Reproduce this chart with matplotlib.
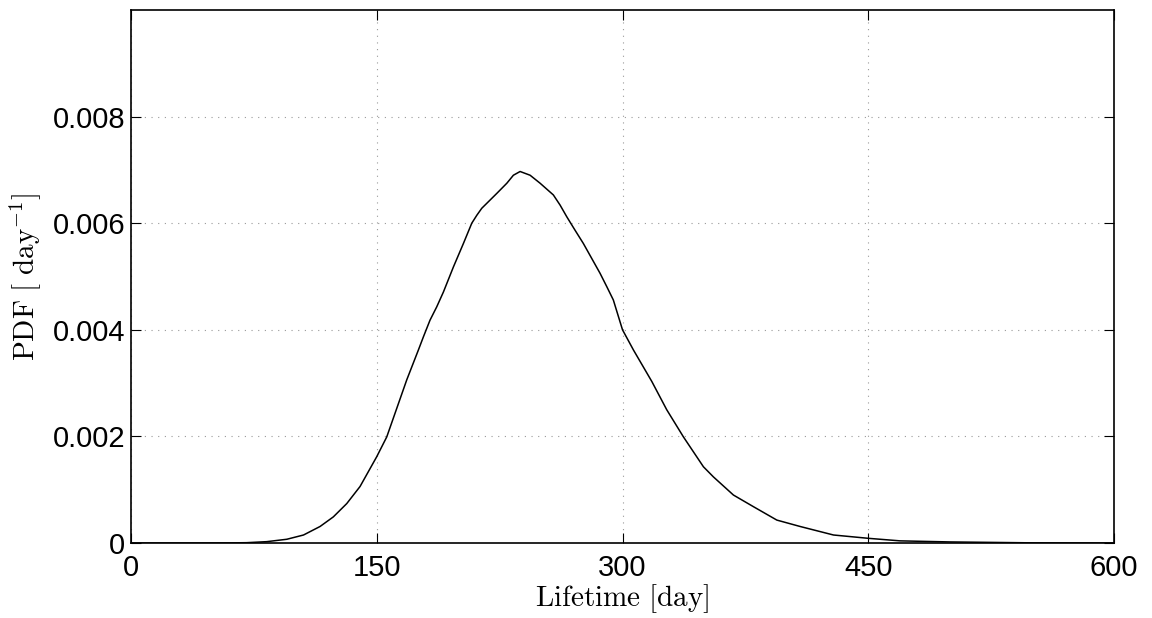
import matplotlib
matplotlib.use("Agg")
import matplotlib.pyplot as plt

plt.rcParams['mathtext.fontset'] = 'cm'
plt.rcParams['font.family'] = ['Liberation Sans', 'DejaVu Sans']

# lifetime [day] and PDF values (PDF in units of 1e-3 / day)
lifetime = [0, 40, 60, 70.6, 82.8, 95.1, 105.3, 115.4, 123.5, 131.7, 139.8,
            150, 156.1, 168.3, 175.4, 178.5, 182.5, 186.6, 190.7, 196.8, 202.9,
            208, 211.1, 214.1, 223.3, 229.4, 233.4, 237.5, 243.6, 249.7, 257.8,
            261.9, 266, 271, 276.1, 281.2, 286.3, 290.4, 294.4, 300, 306.7,
            317.9, 327, 337.2, 349.4, 355.5, 367.7, 380, 394.2, 408.4, 428.8,
            450, 469.5, 500, 550, 600]
pdf_e3 = [0, 0, 0.002, 0.006, 0.025, 0.07, 0.15, 0.31, 0.49, 0.74, 1.06,
          1.62, 1.99, 3.06, 3.62, 3.87, 4.18, 4.43, 4.71, 5.18, 5.62,
          6.0, 6.15, 6.28, 6.56, 6.75, 6.9, 6.97, 6.9, 6.75, 6.53,
          6.34, 6.12, 5.87, 5.62, 5.34, 5.06, 4.81, 4.56, 4.0, 3.62,
          3.03, 2.5, 1.99, 1.43, 1.24, 0.9, 0.68, 0.43, 0.31, 0.15,
          0.088, 0.04, 0.02, 0.003, 0]
pdf = [v * 1e-3 for v in pdf_e3]

x_ticks = [0, 150, 300, 450, 600]
y_ticks = [0, 0.002, 0.004, 0.006, 0.008]
y_tick_labels = ['0', '0.002', '0.004', '0.006', '0.008']

fig = plt.figure(figsize=(11.52, 6.18), dpi=100)
ax = fig.add_axes([131 / 1152, 1 - 543 / 618, 983 / 1152, 533 / 618])

ax.plot(lifetime, pdf, color='black', linewidth=1.1)

ax.set_xlim(0, 600)
ax.set_ylim(0, 0.01)
ax.set_xticks(x_ticks)
ax.set_yticks(y_ticks)
ax.set_yticklabels(y_tick_labels)
ax.tick_params(direction='in', length=7, width=0.8, labelsize=21,
               top=True, right=True)
ax.tick_params(axis='x', pad=8)
ax.tick_params(axis='y', pad=4)
for s in ax.spines.values():
    s.set_linewidth(1.2)

ax.grid(True, linestyle=(0, (1, 5)), color='#999999', linewidth=0.8)

ax.set_xlabel(r'$\mathrm{Lifetime\ [day]}$', fontsize=21, labelpad=0)
ax.set_ylabel(r'$\mathrm{PDF\ [\ day^{-1}]}$', fontsize=21, labelpad=6)

fig.savefig('out.png', dpi=100)
